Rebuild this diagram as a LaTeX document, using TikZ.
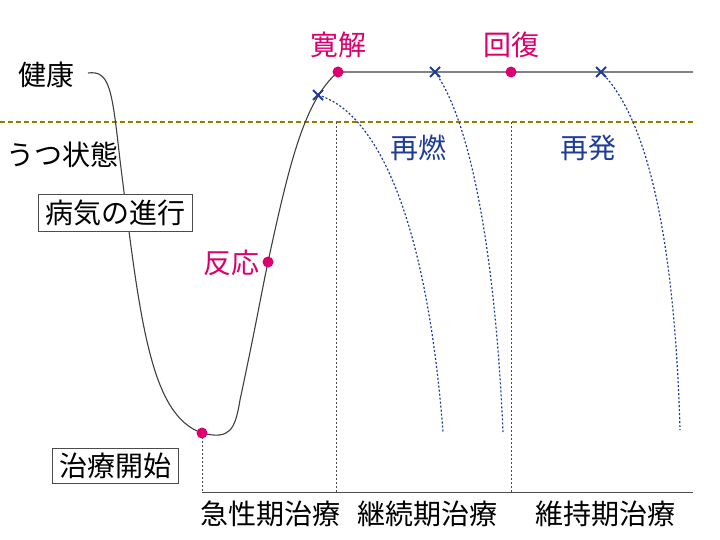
\documentclass[tikz,border=0pt]{standalone}
\usepackage{fontspec}
\setmainfont{Noto Sans CJK JP}
\begin{document}
\begin{tikzpicture}[x=1pt,y=-1pt,
  lbl/.style={font=\fontsize{28}{30}\selectfont, inner sep=0pt},
  pk/.style={lbl, text={rgb,255:red,220;green,0;blue,110}},
  bl/.style={lbl, text={rgb,255:red,30;green,60;blue,150}},
  dot/.style={circle, fill={rgb,255:red,220;green,0;blue,110}, minimum size=11pt, inner sep=0pt},
  xm/.style={draw={rgb,255:red,30;green,60;blue,150}, line width=1.8pt},
  relapse/.style={draw={rgb,255:red,30;green,60;blue,150}, dash pattern=on 2pt off 2pt, line width=1.2pt},
  vline/.style={draw=black!70, dash pattern=on 2pt off 2pt, line width=1pt},
  boxed/.style={lbl, draw=black!70, line width=1pt, inner xsep=7pt, inner ysep=5pt, fill=white}]
\useasboundingbox (0,0) rectangle (720,540);
\fill[white] (0,0) rectangle (720,540);
% dashed threshold
\draw[dash pattern=on 5pt off 3pt, line width=1.3pt, draw={rgb,255:red,150;green,125;blue,0}] (0,122) -- (693,122);
% vertical dotted lines & axis
\coordinate (b0) at (202,492); \coordinate (b1) at (336,492); \coordinate (b2) at (511,492); \coordinate (b3) at (693,492);
\draw[vline] (202,433) -- (b0);
\draw[vline] (336,122) -- (b1);
\draw[vline] (511,122) -- (b2);
\draw[draw=black!70, line width=1pt] (b0) -- (b3);
% main curve
\coordinate (start) at (88,73);
\coordinate (remit) at (338,72);
\coordinate (recov) at (511,72);
\coordinate (endp) at (693,72);
\draw[black!75, line width=1.1pt] (start) .. controls (110,70) and (112,90) .. (120,160)
  .. controls (140,320) and (150,415) .. (202,433)
  .. controls (230,440) and (235,430) .. (240,400)
  .. controls (255,330) and (262,290) .. (268,262)
  .. controls (290,160) and (305,100) .. (remit) -- (endp);
% dots
\node[dot] (d1) at (202,433) {};
\node[dot] (d2) at (268,262) {};
\node[dot] (d3) at (remit) {};
\node[dot] (d4) at (recov) {};
% x marks and relapse curves
\foreach \n/\px/\py in {x1/318/95, x2/435/72, x3/601/72}{
  \coordinate (\n) at (\px,\py);
  \draw[xm] (\px-5,\py-5) -- (\px+5,\py+5) (\px-5,\py+5) -- (\px+5,\py-5);
}
\coordinate (e1) at (443,432); \coordinate (e2) at (503,432); \coordinate (e3) at (680,430);
\draw[relapse] (x1) .. controls (370,110) and (425,200) .. (e1);
\draw[relapse] (x2) .. controls (470,120) and (495,250) .. (e2);
\draw[relapse] (x3) .. controls (650,120) and (675,250) .. (e3);
% labels
\node[lbl] (t1) at (46,75) {健康};
\node[lbl] (t2) at (62,155) {うつ状態};
\node[boxed] (t3) at (115,213) {病気の進行};
\node[boxed] (t4) at (115,466) {治療開始};
\node[pk] (t5) at (231,263) {反応};
\node[pk] (t6) at (338,45) {寛解};
\node[pk] (t7) at (511,45) {回復};
\node[bl] (t8) at (418,148) {再燃};
\node[bl] (t9) at (588,148) {再発};
\node[lbl] (a1) at (270,514) {急性期治療};
\node[lbl] (a2) at (427,514) {継続期治療};
\node[lbl] (a3) at (605,514) {維持期治療};
\end{tikzpicture}
\end{document}
